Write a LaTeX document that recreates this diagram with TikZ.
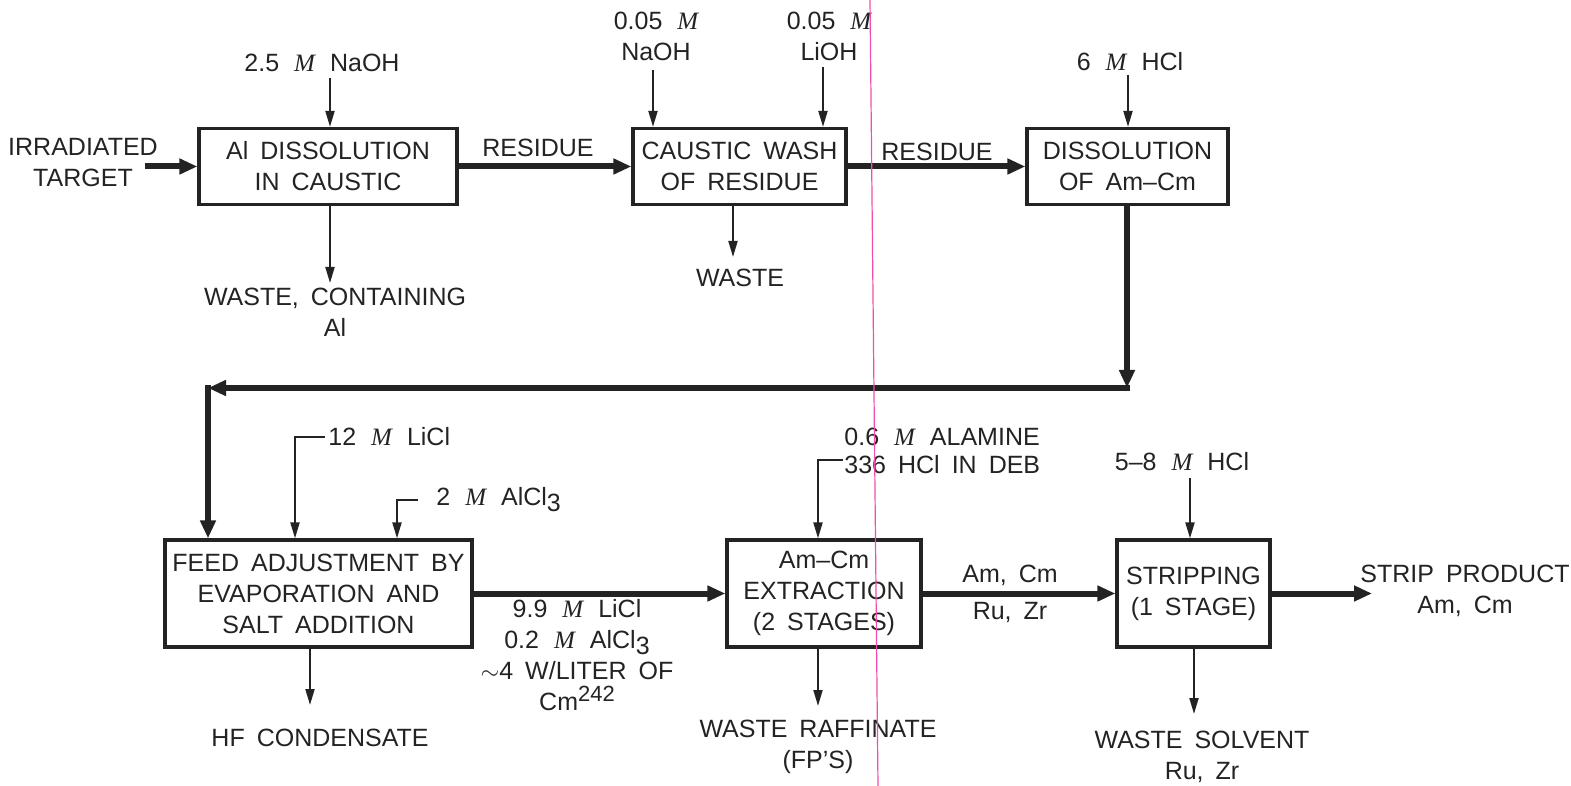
\documentclass[tikz,border=0pt]{standalone}
\usepackage{fontspec}
\setmainfont{Liberation Sans}
\newfontfamily\serifface{Liberation Serif}
\usetikzlibrary{arrows.meta}
\definecolor{ink}{HTML}{232323}
\newcommand\molM{\hspace{1.5pt}{\serifface\itshape M}\hspace{1.5pt}}
\newcommand\subthree{\raisebox{-0.45ex}{3}}
\newcommand\supnum[1]{\raisebox{0.7ex}{\fontsize{11}{11}\selectfont #1}}
\newcommand\lblfont{\fontsize{12.5}{15.5}\selectfont\spaceskip=6pt plus 1pt minus 1pt\relax}
\newcommand\lblfonttight{\fontsize{12.5}{14}\selectfont\spaceskip=6pt plus 1pt minus 1pt\relax}
\tikzset{
  lbl/.style={font=\lblfont, align=center, inner sep=1pt, text=ink},
  proc/.style={lbl, draw=ink, line width=1.6pt, inner sep=0pt},
  thn/.style={draw=ink, line width=1pt, -{Triangle[length=8pt,width=4.5pt]}},
  thk/.style={draw=ink, line width=3pt, -{Triangle[length=9pt,width=7.5pt]}}
}
\begin{document}
\begin{tikzpicture}[x=0.5pt,y=-0.5pt]
\useasboundingbox (0,0) rectangle (1571,786);

% process boxes
\node[proc, minimum width=129pt, minimum height=38pt] (b1) at (328,166.5) {Al DISSOLUTION\\IN CAUSTIC};
\node[proc, minimum width=106.5pt, minimum height=38pt] (b2) at (739.5,166.5) {CAUSTIC WASH\\OF RESIDUE};
\node[proc, minimum width=100.5pt, minimum height=38pt] (b3) at (1127.5,166.5) {DISSOLUTION\\OF Am--Cm};
\node[proc, minimum width=153.5pt, minimum height=53.5pt] (feed) at (318.5,593.5) {FEED ADJUSTMENT BY\\EVAPORATION AND\\SALT ADDITION};
\node[proc, minimum width=97pt, minimum height=53.5pt] (ext) at (824,593.5) {Am--Cm\\EXTRACTION\\(2 STAGES)};
\node[proc, minimum width=76.5pt, minimum height=53.5pt] (strip) at (1193.5,593.5) {STRIPPING\\(1 STAGE)};

% labels
\node[lbl] (irr) at (83,163) {IRRADIATED\\TARGET};
\node[lbl] (naoh1) at (322,63) {2.5 \molM\ NaOH};
\node[lbl] (w1) at (335,312.5) {WASTE, CONTAINING\\Al};
\node[lbl] (res1) at (538,148) {RESIDUE};
\node[lbl] (naoh2) at (656,36) {0.05 \molM\\NaOH};
\node[lbl] (lioh) at (829,36) {0.05 \molM\\LiOH};
\node[lbl] (w2) at (740,278) {WASTE};
\node[lbl] (res2) at (937,152) {RESIDUE};
\node[lbl] (hcl6) at (1130,62) {6 \molM\ HCl};
\node[lbl, anchor=west] (licl) at (326,437) {12 \molM\ LiCl};
\node[lbl, anchor=west] (alcl) at (434,500) {2 \molM\ AlCl\subthree};
\node[lbl] (feedc) at (577,655) {9.9 \molM\ LiCl\\0.2 \molM\ AlCl\subthree\\$\sim$4 W/LITER OF\\Cm\supnum{242}};
\node[lbl] (hf) at (320,738) {HF CONDENSATE};
\node[lbl, anchor=west, align=left, font=\lblfonttight] (alam) at (842,451) {0.6 \molM\ ALAMINE\\336 HCl IN DEB};
\node[lbl] (amcm1) at (1010,575) {Am, Cm};
\node[lbl] (ruzr1) at (1010,612) {Ru, Zr};
\node[lbl] (hcl58) at (1182,462) {5--8 \molM\ HCl};
\node[lbl] (prod) at (1465,591) {STRIP PRODUCT\\Am, Cm};
\node[lbl] (wraf) at (818,747) {WASTE RAFFINATE\\(FP'S)};
\node[lbl] (wsol) at (1202,756.5) {WASTE SOLVENT\\Ru, Zr};

% free ends
\coordinate (irrE) at (145,166.5);
\coordinate (i1) at (330,78);
\coordinate (i2) at (653,70);
\coordinate (i3) at (823,67);
\coordinate (i4) at (1128,75);
\coordinate (o1) at (330,283);
\coordinate (o2) at (733,257);
\coordinate (t1) at (1127,388);
\coordinate (t2) at (208,388);
\coordinate (lc1) at (325,437);
\coordinate (lc2) at (295,437);
\coordinate (ac1) at (418,500);
\coordinate (ac2) at (397,500);
\coordinate (al1) at (843,460);
\coordinate (al2) at (818,460);
\coordinate (h1) at (1190,478);
\coordinate (of) at (310,705);
\coordinate (oe) at (818,706);
\coordinate (os) at (1194,714);
\coordinate (pE) at (1372,593.5);

% top row connectors
\draw[thk] (irrE) -- (b1.west);
\draw[thk] (b1.east) -- (b2.west);
\draw[thk] (b2.east) -- (b3.west);
\draw[thn] (i1) -- (i1 |- b1.north);
\draw[thn] (i2) -- (i2 |- b2.north);
\draw[thn] (i3) -- (i3 |- b2.north);
\draw[thn] (i4) -- (i4 |- b3.north);
\draw[thn] (o1 |- b1.south) -- (o1);
\draw[thn] (o2 |- b2.south) -- (o2);

% recycle line
\draw[thk] (t1 |- b3.south) -- (t1);
\draw[thk] ([xshift=1.5pt]t1) -- (t2);
\draw[thk] ([yshift=1.5pt]t2) -- (t2 |- feed.north);

% bottom row connectors
\draw[thn] (lc1) -- (lc2) -- (lc2 |- feed.north);
\draw[thn] (ac1) -- (ac2) -- (ac2 |- feed.north);
\draw[thn] (al1) -- (al2) -- (al2 |- ext.north);
\draw[thn] (h1) -- (h1 |- strip.north);
\draw[thk] (feed.east) -- (ext.west);
\draw[thk] (ext.east) -- (strip.west);
\draw[thk] (strip.east) -- (pE);
\draw[thn] (of |- feed.south) -- (of);
\draw[thn] (oe |- ext.south) -- (oe);
\draw[thn] (os |- strip.south) -- (os);

% scan artefact line
\draw[magenta!70, line width=0.6pt] (870,0) -- (878,786);
\end{tikzpicture}
\end{document}
